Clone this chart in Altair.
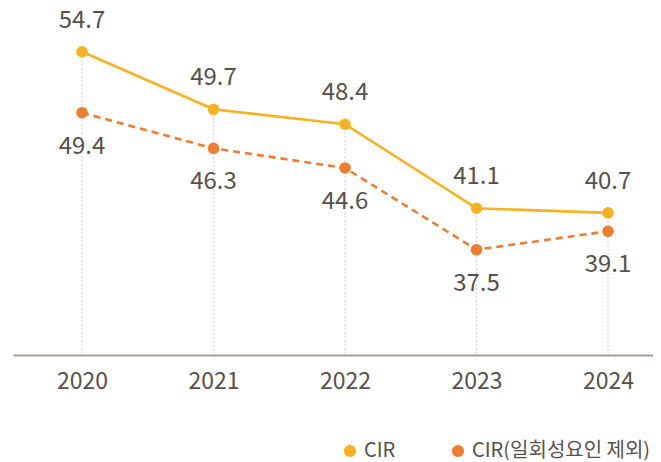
import altair as alt
import pandas as pd

years = [2020, 2021, 2022, 2023, 2024]
cir = [54.7, 49.7, 48.4, 41.1, 40.7]
cir_adj = [49.4, 46.3, 44.6, 37.5, 39.1]
series_names = ["CIR", "CIR(일회성요인 제외)"]
colors = ["#F9B122", "#EC7D31"]

FONT = "Noto Sans CJK KR"
TXT = "#595049"

wide = pd.DataFrame({"year": years, "cir": cir, "adj": cir_adj})
long = pd.concat([
    pd.DataFrame({"year": years, "value": cir, "series": series_names[0]}),
    pd.DataFrame({"year": years, "value": cir_adj, "series": series_names[1]}),
])

W, H = 640, 347
xs = alt.Scale(domain=[2019.475, 2024.342], nice=False, zero=False)
ys = alt.Scale(domain=[28.35, 58.5], nice=False, zero=False)
color = alt.Color("series:N", scale=alt.Scale(domain=series_names, range=colors),
                  legend=alt.Legend(title=None, orient="none", direction="horizontal",
                                    legendX=327, legendY=433, symbolType="circle",
                                    symbolSize=150, labelFontSize=20, labelColor=TXT,
                                    labelFont=FONT, columnPadding=52, labelOffset=4,
                                    labelLimit=400,
                                    symbolStrokeWidth=0, symbolOpacity=1))

xenc = alt.X("year:Q", scale=xs,
             axis=alt.Axis(values=years, format="d", title=None, grid=False, ticks=False,
                           labelFontSize=23, labelColor=TXT, labelFont=FONT, labelPadding=15,
                           domainColor="#a59d95", domainWidth=2.2, labelFlush=False))

rules = alt.Chart(wide).mark_rule(color="#cfcfcf", strokeDash=[2, 2], strokeWidth=1).encode(
    x=xenc, y=alt.Y("cir:Q", scale=ys, axis=None), y2=alt.value(H))

line1 = alt.Chart(wide).mark_line(strokeWidth=2.6, color=colors[0]).encode(
    x=alt.X("year:Q", scale=xs), y=alt.Y("cir:Q", scale=ys))
line2 = alt.Chart(wide).mark_line(strokeWidth=2.6, color=colors[1], strokeDash=[7, 5]).encode(
    x=alt.X("year:Q", scale=xs), y=alt.Y("adj:Q", scale=ys))

points = alt.Chart(long).mark_circle(size=135, opacity=1).encode(
    x=alt.X("year:Q", scale=xs), y=alt.Y("value:Q", scale=ys), color=color)

lab1 = alt.Chart(wide).mark_text(dy=-31, fontSize=24, color=TXT, font=FONT).encode(
    x=alt.X("year:Q", scale=xs), y=alt.Y("cir:Q", scale=ys), text=alt.Text("cir:Q", format=".1f"))
lab2 = alt.Chart(wide).mark_text(dy=34, fontSize=24, color=TXT, font=FONT).encode(
    x=alt.X("year:Q", scale=xs), y=alt.Y("adj:Q", scale=ys), text=alt.Text("adj:Q", format=".1f"))

chart = alt.layer(rules, line1, line2, points, lab1, lab2).properties(
    width=W, height=H, autosize=alt.AutoSizeParams(type="none"),
    padding={"left": 5, "top": 0, "right": 0, "bottom": 105}, background="white"
).configure_view(stroke=None)

chart.save("out.html", embed_options={"renderer": "svg", "actions": False})
